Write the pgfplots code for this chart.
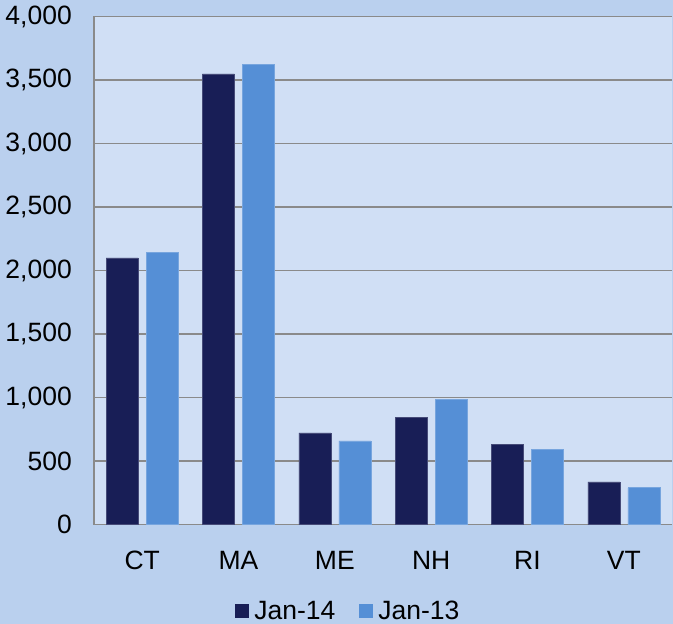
\documentclass[border=0pt]{standalone}
\usepackage{pgfplots}
\pgfplotsset{compat=1.18}
\usepackage{fontspec}
\setmainfont{Liberation Sans}
\definecolor{outerbg}{HTML}{BAD0EE}
\definecolor{plotbg}{HTML}{D0DFF5}
\definecolor{darkbar}{HTML}{181E56}
\definecolor{lightbar}{HTML}{558FD6}
\definecolor{gridgray}{HTML}{8A8A8A}
\begin{document}
\begin{tikzpicture}
\fill[outerbg] (-94bp,-99bp) rectangle (579bp,524.5bp);
\begin{axis}[
  at={(0,0)}, anchor=south west,
  scale only axis,
  width=578bp, height=508bp,
  ybar=8bp, bar width=32bp,
  xmin=-0.5, xmax=5.5,
  ymin=0, ymax=4000,
  enlargelimits=false,
  xtick=data,
  xticklabels={CT,MA,ME,NH,RI,VT},
  ytick={0,500,...,4000},
  axis lines*=left,
  axis line style={draw=gridgray, line width=1.2bp, -},
  xtick style={draw=none}, ytick style={draw=none},
  ymajorgrids,
  grid style={draw=gridgray, line width=1.2bp},
  axis background/.style={fill=plotbg},
  font=\fontsize{26.5bp}{31bp}\selectfont,
  /pgf/number format/assume math mode=true,
  /pgf/number format/1000 sep={,},
  yticklabel style={inner sep=0pt, anchor=east, xshift=-22bp},
  xticklabel style={inner sep=0pt, anchor=north, yshift=-22bp},
  legend columns=2,
  legend style={draw=none, fill=none, at={(0.441,-0.170)}, anchor=center,
    font=\fontsize{26.5bp}{31bp}\selectfont,
    /tikz/every even column/.append style={column sep=21bp},
    nodes={inner sep=3bp}},
  legend image code/.code={\fill[#1, draw=none] (0bp,-6.7bp) rectangle (13.4bp,6.7bp); \path[draw=none, fill=none] (0bp,0bp) -- (16bp,0bp);},
]
\addplot[fill=darkbar, draw=darkbar!80!white, line width=0.6bp] coordinates {(0,2100) (1,3548) (2,722) (3,845) (4,628) (5,336)};
\addplot[fill=lightbar, draw=lightbar!80!white, line width=0.6bp] coordinates {(0,2144) (1,3622) (2,659) (3,984) (4,593) (5,289)};
\legend{Jan-14,Jan-13}
\end{axis}
\pgfresetboundingbox
\path (-94bp,-99bp) rectangle (579bp,524.5bp);
\end{tikzpicture}
\end{document}
